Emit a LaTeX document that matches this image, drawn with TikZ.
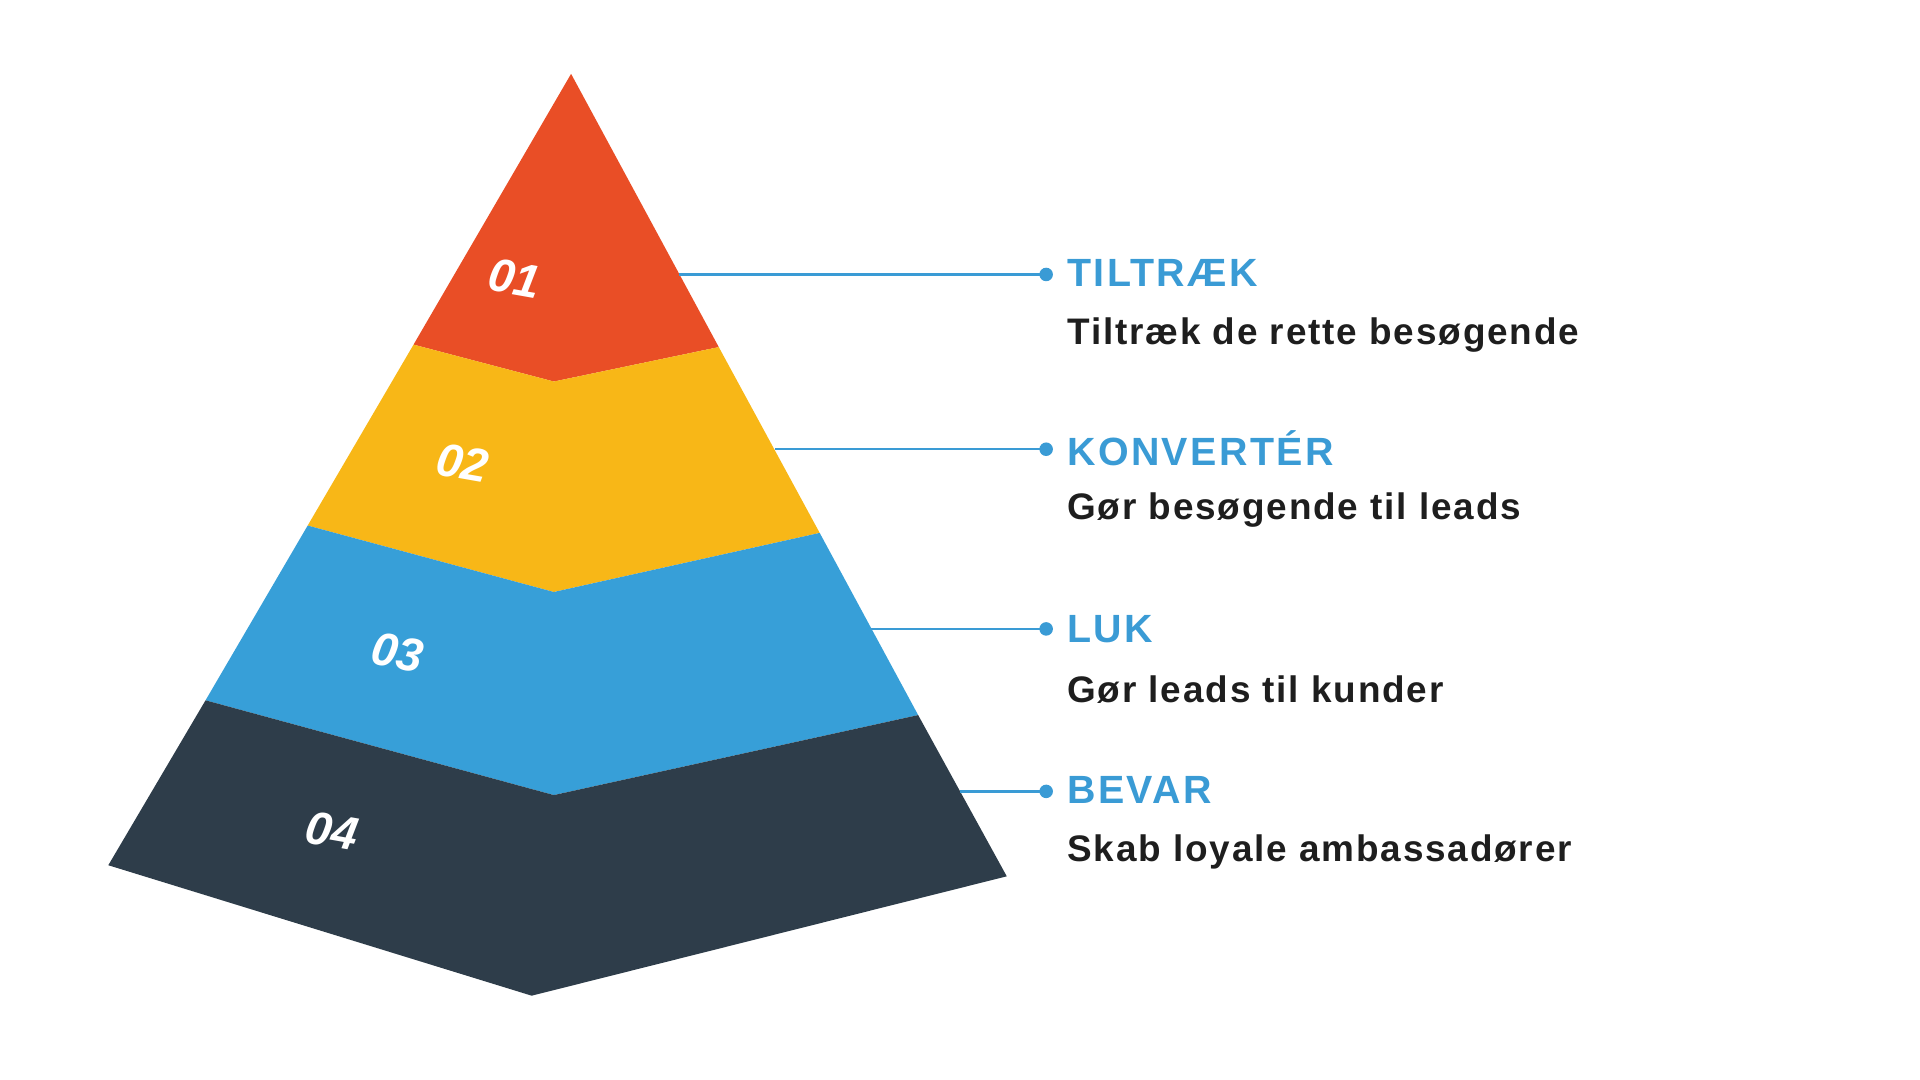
\documentclass[tikz,border=0pt]{standalone}
\usepackage{fontspec}
\setmainfont{Liberation Sans}
\newfontfamily\titlefont[LetterSpace=6]{Liberation Sans}
\newfontfamily\subfont[LetterSpace=5]{Liberation Sans}
\definecolor{cred}{HTML}{E94E26}
\definecolor{cyel}{HTML}{F8B717}
\definecolor{cblu}{HTML}{379FD8}
\definecolor{cdark}{HTML}{2E3D4A}
\definecolor{cline}{HTML}{3A9BD5}
\definecolor{ctext}{HTML}{1E1E1E}
\begin{document}
\begin{tikzpicture}[x=1pt,y=-1pt,
  num/.style={text=white,font=\fontsize{38}{42}\selectfont\bfseries\itshape,rotate=-10},
  ttl/.style={anchor=west,text=cline,font=\fontsize{32}{38}\selectfont\bfseries\titlefont\bfseries,inner sep=0},
  sub/.style={anchor=west,text=ctext,font=\fontsize{30}{36}\selectfont\subfont\bfseries,inner sep=0},
  con/.style={draw=cline,line width=2pt}]
\useasboundingbox (0,0) rectangle (1560,877);
\fill[cred] (464,60) -- (584,282) -- (450,310) -- (336,280) -- cycle;
\fill[cyel] (336,280) -- (450,310) -- (584,282) -- (666,433) -- (450,481) -- (250,427) -- cycle;
\fill[cblu] (250,427) -- (450,481) -- (666,433) -- (746,581) -- (450,646) -- (167,569) -- cycle;
\fill[cdark] (167,569) -- (450,646) -- (746,581) -- (818,712) -- (432,809) -- (88,703) -- cycle;
\node[num] (n1) at (418,226) {01};
\node[num] (n2) at (376,376) {02};
\node[num] (n3) at (323,530) {03};
\node[num] (n4) at (270,675) {04};
\coordinate (a1) at (552,223); \coordinate (b1) at (850,223);
\coordinate (a2) at (630,365); \coordinate (b2) at (850,365);
\coordinate (a3) at (708,511); \coordinate (b3) at (850,511);
\coordinate (a4) at (780,643); \coordinate (b4) at (850,643);
\foreach \i in {1,2,3,4}{
  \draw[con] (a\i) -- (b\i);
  \fill[cline] (b\i) circle (5.5);
}
\node[ttl] (t1) at (867,222) {TILTRÆK};
\node[sub] (s1) at (867,272) {Tiltræk de rette besøgende};
\node[ttl] (t2) at (867,364) {KONVERTÉR};
\node[sub] (s2) at (867,414) {Gør besøgende til leads};
\node[ttl] (t3) at (867,511) {LUK};
\node[sub] (s3) at (867,560) {Gør leads til kunder};
\node[ttl] (t4) at (867,642) {BEVAR};
\node[sub] (s4) at (867,692) {Skab loyale ambassadører};
\end{tikzpicture}
\end{document}
